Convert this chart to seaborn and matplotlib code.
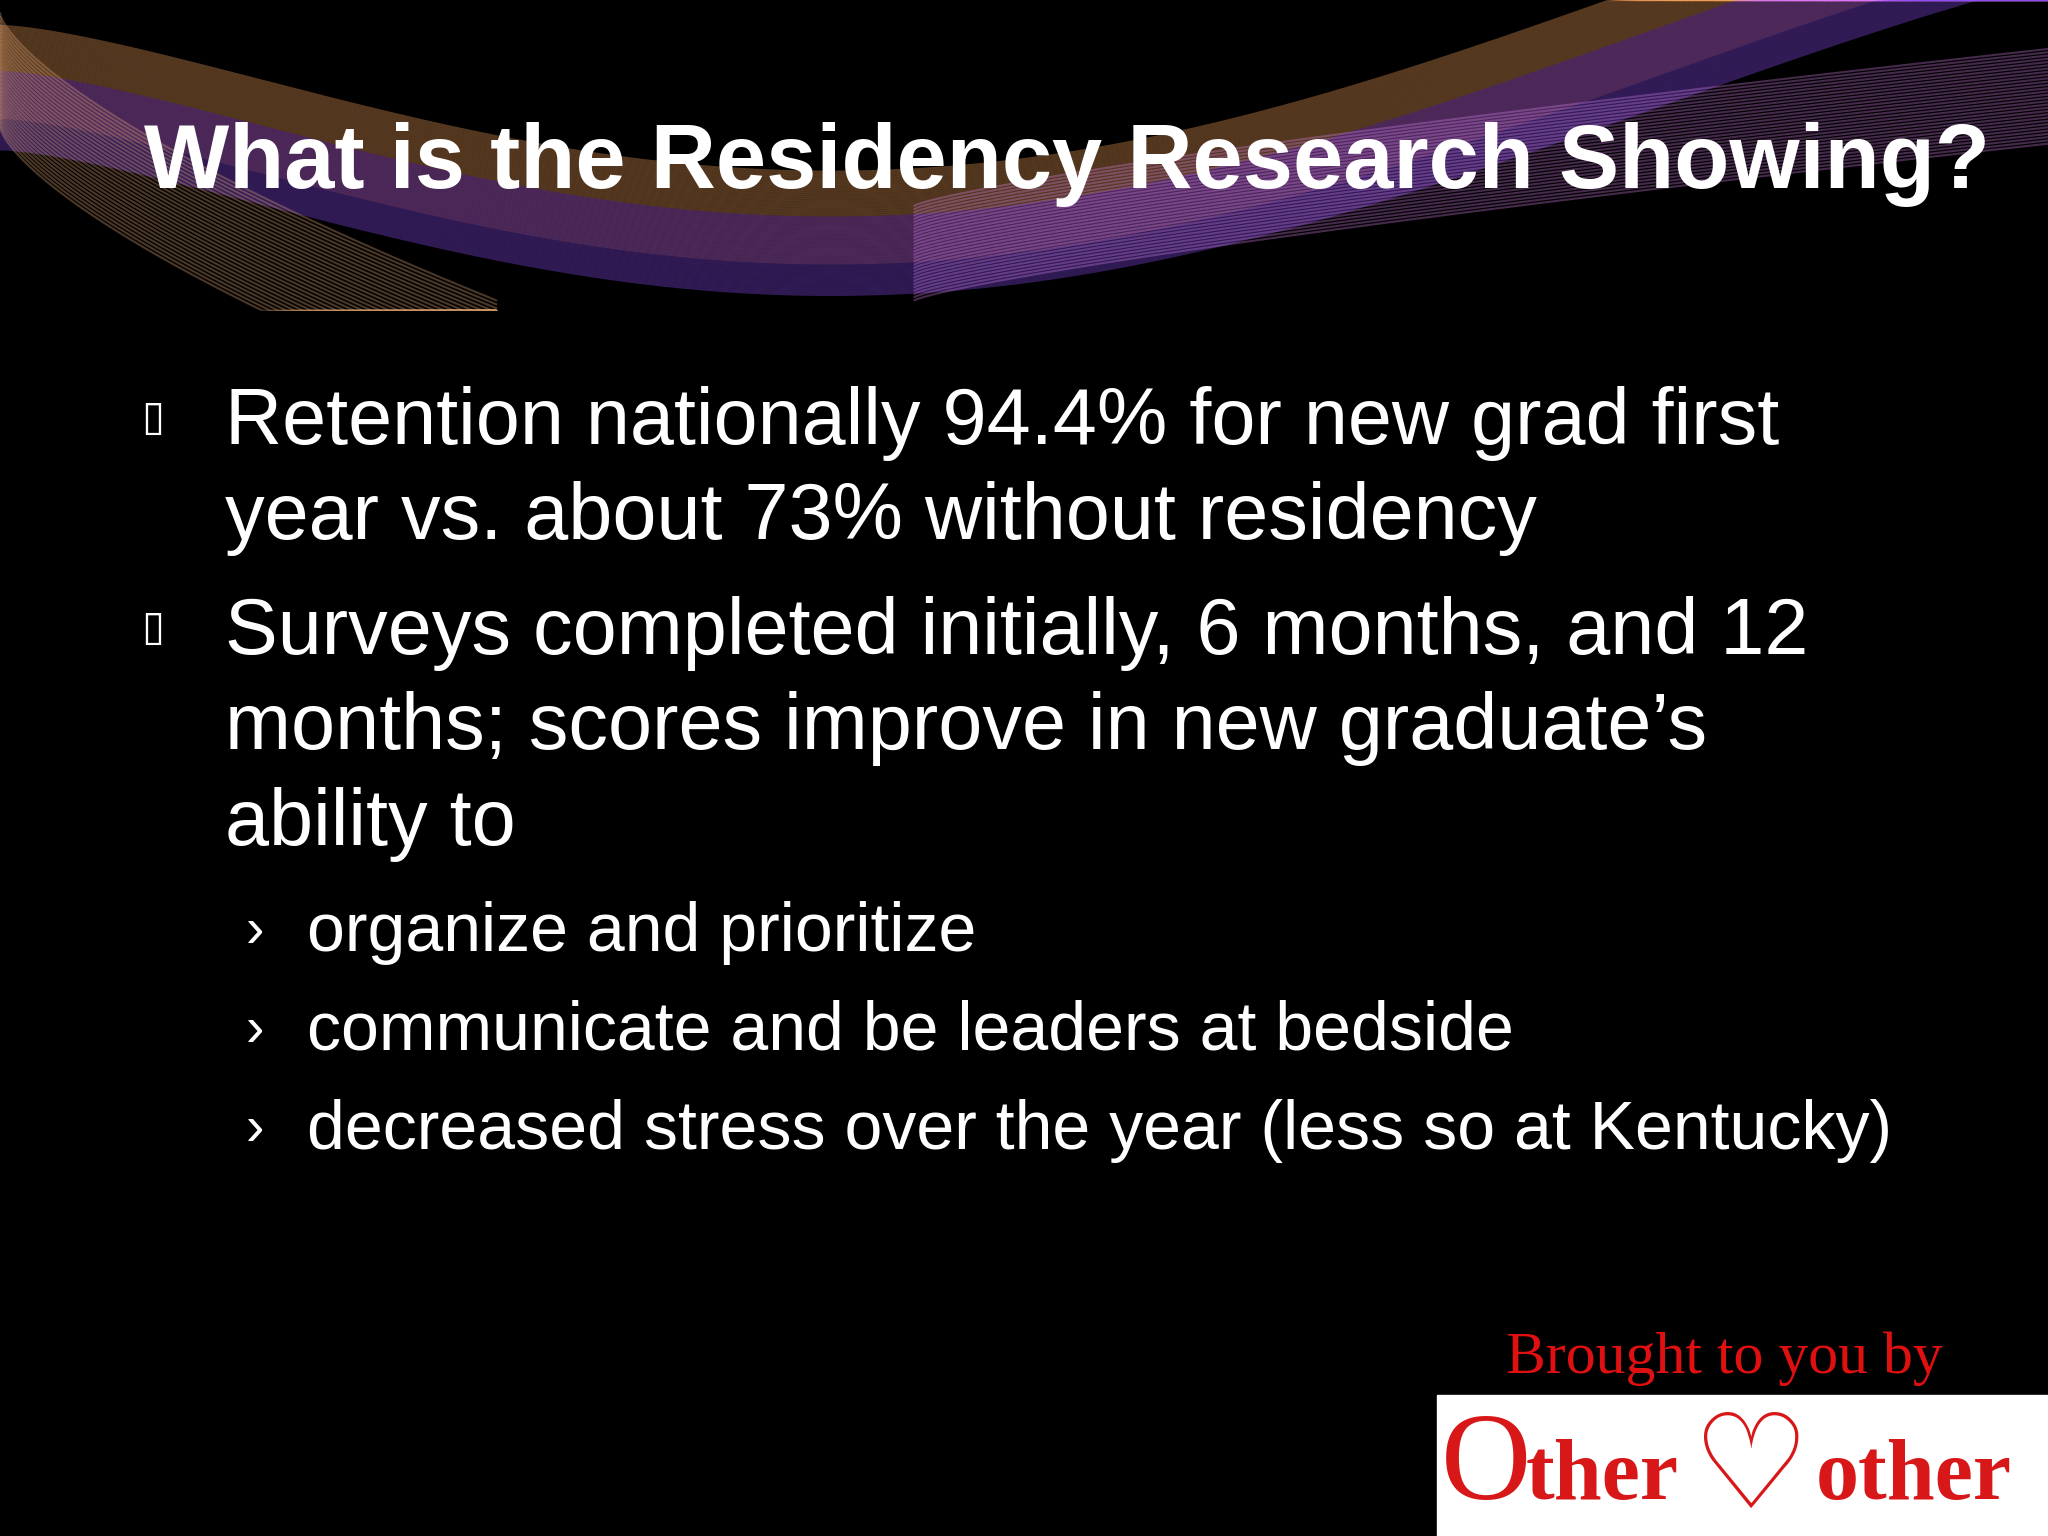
import matplotlib
matplotlib.use("Agg")
import matplotlib.pyplot as plt
import seaborn as sns
import numpy as np
from matplotlib.patches import Rectangle

sns.set_theme(style="white")
plt.rcParams['font.family'] = ['Liberation Sans', 'DejaVu Sans']

title = "What is the Residency Research Showing?"
bullets = [
    ["Retention nationally 94.4% for new grad first", "year vs. about 73% without residency"],
    ["Surveys completed initially, 6 months, and 12", "months; scores improve in new graduate\u2019s", "ability to"],
]
subbullets = ["organize and prioritize",
              "communicate and be leaders at bedside",
              "decreased stress over the year (less so at Kentucky)"]
credit = "Brought to you by"

W, H = 1568, 1176
fig = plt.figure(figsize=(20.48, 15.36), dpi=100, facecolor='black')
ax = fig.add_axes([0, 0, 1, 1])
ax.set_xlim(0, W); ax.set_ylim(H, 0); ax.axis('off')
ax.add_patch(Rectangle((0, 0), W, H, color='black', zorder=0))

# banner swooshes
t = np.linspace(0, 1, 400)
for i in range(60):
    off = i * 1.6
    x = t * W
    y = 20 + off + 230 * np.sin(np.pi * t * 0.95) ** 1.3 * (1 - 0.5 * t) - 140 * t
    col = (0.95, 0.62, 0.35) if i < 22 else ((0.85, 0.45, 1.0) if i < 45 else (0.55, 0.3, 0.95))
    ax.plot(x, np.clip(y, 0, 238), color=col, alpha=0.35, lw=1.5, zorder=1)
for i in range(30):
    x = t * 380
    y = 10 + i * 3 + 220 * t ** 0.7
    ax.plot(x, np.clip(y, 0, 238), color=(0.98, 0.72, 0.5), alpha=0.3, lw=1.5, zorder=1)
for i in range(30):
    x = 700 + t * 868
    y = 230 - 120 * t ** 0.8 - i * 2.5
    ax.plot(x, np.clip(y, 0, 238), color=(0.9, 0.55, 1.0), alpha=0.3, lw=1.5, zorder=1)
ax.add_patch(Rectangle((0, 238), W, H, color='black', zorder=2))

ax.text(110, 126, title, color='white', fontsize=65, fontweight='bold', va='center', ha='left', zorder=5)

y = 324
for b in bullets:
    ax.text(108, y - 4, "\u25af", color='white', fontsize=30, va='center', family=['DejaVu Sans'], zorder=5)
    for line in b:
        ax.text(172, y, line, color='white', fontsize=57, va='center', zorder=5)
        y += 73
    y += 15
y = 714
for s in subbullets:
    ax.text(188, y, "\u203a", color='white', fontsize=40, va='center', zorder=5)
    ax.text(235, y, s, color='white', fontsize=49, va='center', zorder=5)
    y += 76

ax.text(1320, 1040, credit, color='#e01010', fontsize=43, family=['Liberation Serif'], ha='center', va='center', zorder=5)
ax.add_patch(Rectangle((1100, 1068), 468, 108, color='white', zorder=4))
ax.text(1103, 1125, "O", color='#d81818', fontsize=90, family=['Liberation Serif'], va='center', zorder=5)
ax.text(1168, 1132, "ther", color='#d81818', fontsize=62, fontweight='bold', family=['Liberation Serif'], va='center', zorder=5)
ax.text(1390, 1132, "other", color='#d81818', fontsize=62, fontweight='bold', family=['Liberation Serif'], va='center', zorder=5)
ax.text(1340, 1126, "\u2661", color='#d81818', fontsize=95, family=['DejaVu Sans'], ha='center', va='center', zorder=5)

fig.savefig("out.png", dpi=100, facecolor='black')
